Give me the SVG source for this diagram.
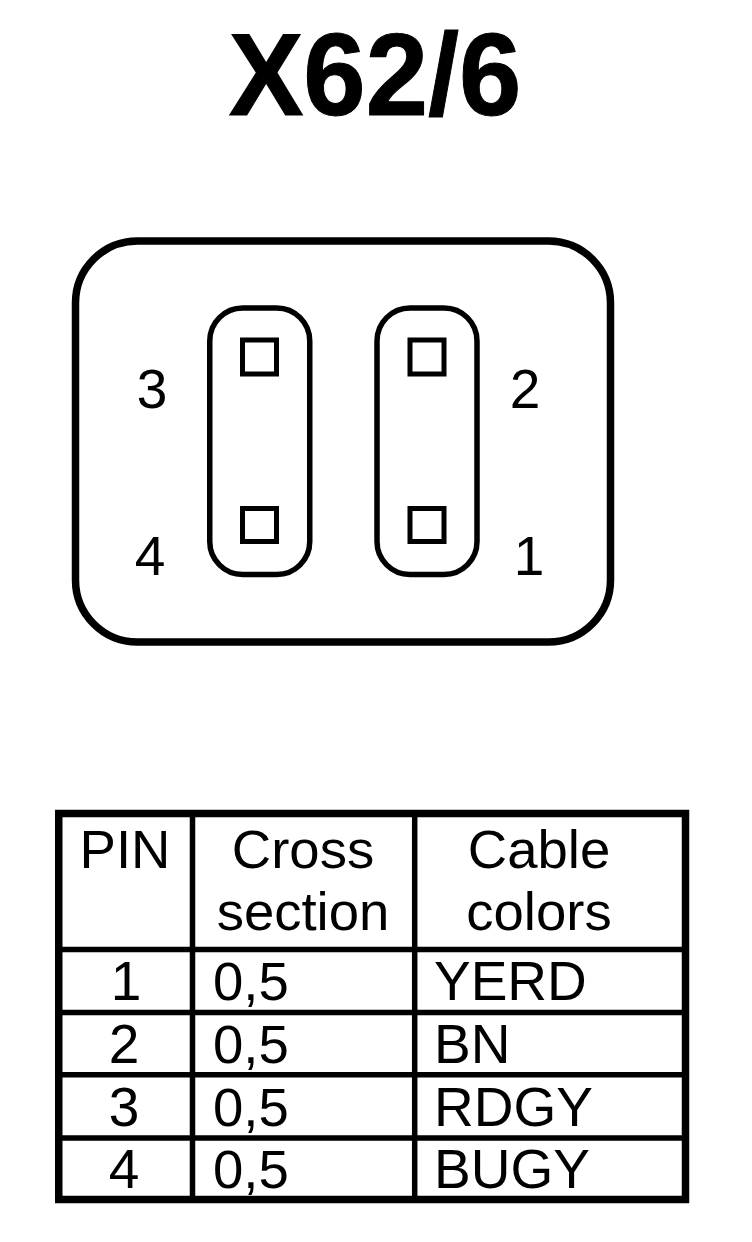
<svg xmlns="http://www.w3.org/2000/svg" width="752" height="1242" viewBox="0 0 752 1242">
<style>
text{font-family:"Liberation Sans",Arial,sans-serif;fill:#000}
.p{font-size:55px}
.t{font-size:55px}
.h{font-size:54.5px}
.n{font-size:54.5px}
.s{fill:none;stroke:#000;stroke-width:7.5}
.b{fill:none;stroke:#000;stroke-width:5.5}
.q{fill:none;stroke:#000;stroke-width:5}
.c{text-anchor:middle}
</style>
<rect width="752" height="1242" fill="#fff"/>
<text transform="translate(375 115) scale(1 1.05)" class="c" font-size="112" font-weight="bold" stroke="#000" stroke-width="1">X62/6</text>
<g id="connector">
<rect class="s" x="75.5" y="241" width="535" height="401" rx="62"/>
<rect class="b" x="209.75" y="308" width="100" height="266.5" rx="33"/>
<rect class="b" x="377" y="308" width="100" height="266.5" rx="33"/>
<rect class="q" x="242.5" y="340" width="34" height="34"/>
<rect class="q" x="410" y="340" width="34" height="34"/>
<rect class="q" x="242.5" y="508.5" width="34" height="33"/>
<rect class="q" x="410" y="508.5" width="34" height="33"/>
<text class="p c" x="152" y="408">3</text>
<text class="p c" x="525" y="408">2</text>
<text class="p c" x="150" y="575">4</text>
<text class="p c" x="529" y="575">1</text>
</g>
<g id="table">
<rect class="s" x="58.75" y="813.5" width="626.75" height="386"/>
<path class="b" d="M58 949.5H686M58 1012.5H686M58 1074.75H686M58 1138H686M192.5 813V1200M414.7 813V1200"/>
<text class="h c" x="125" y="868">PIN</text>
<text class="h c" x="303" y="868">Cross</text>
<text class="h c" x="303" y="930">section</text>
<text class="h c" x="539" y="868">Cable</text>
<text class="h c" x="539" y="930">colors</text>
<text class="t c" x="126" y="1000">1</text><text class="n" x="213" y="1000">0,5</text><text class="t" x="434" y="1000">YERD</text>
<text class="t c" x="124" y="1063">2</text><text class="n" x="213" y="1063">0,5</text><text class="t" x="434" y="1063">BN</text>
<text class="t c" x="124" y="1126">3</text><text class="n" x="213" y="1126">0,5</text><text class="t" x="434" y="1126">RDGY</text>
<text class="t c" x="124" y="1188">4</text><text class="n" x="213" y="1188">0,5</text><text class="t" x="434" y="1188">BUGY</text>
</g>
</svg>
